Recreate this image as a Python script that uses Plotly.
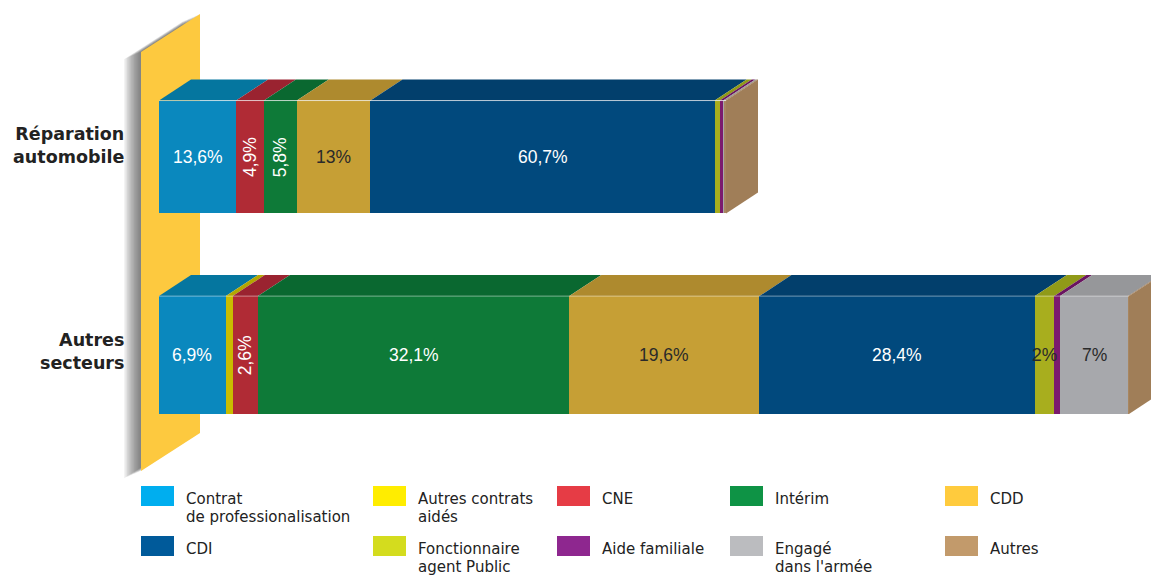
import plotly.graph_objects as go
import numpy as np

# ---------------- data ----------------
categories = ["Réparation<br>automobile", "Autres<br>secteurs"]
series = ["Contrat<br>de professionalisation", "Autres contrats<br>aidés", "CNE", "Intérim", "CDD",
          "CDI", "Fonctionnaire<br>agent Public", "Aide familiale", "Engagé<br>dans l'armée", "Autres"]
rep_auto = [13.6, 0.0, 4.9, 5.8, 13.0, 60.7, 0.9, 0.6, 0.3, 0.2]
autres_sect = [6.9, 0.7, 2.6, 32.1, 19.6, 28.4, 2.0, 0.6, 7.0, 0.1]
labels_rep = ["13,6%", "", "4,9%", "5,8%", "13%", "60,7%", "", "", "", ""]
labels_aut = ["6,9%", "", "2,6%", "32,1%", "19,6%", "28,4%", "2%", "", "7%", ""]

# ---------------- styles ----------------
face_colors = ["#0A88BE", "#C9BC00", "#B02B35", "#0E7A38", "#C69F35",
               "#01497D", "#A8AE1E", "#7B1A6E", "#A7A8AC", "#A88660"]
top_colors = ["#05769F", "#B3A700", "#9A2330", "#0A6830", "#AE8A2E",
              "#023F6C", "#909A18", "#6A1460", "#96979A", "#937250"]
legend_colors = ["#00AEEF", "#FFED00", "#E63C45", "#0E9345", "#FFCB3D",
                 "#005A9A", "#D4DC1E", "#8E278F", "#BBBCBF", "#C29A6B"]
side_color = "#A07E58"
label_dark = [False, False, False, False, True, False, True, False, True, False]
rot_rep = [False, False, True, True, False, False, False, False, False, False]
rot_aut = [False, False, True, False, False, False, False, False, False, False]

W, H = 1151, 575
ML = 159
PW = W - ML
# pixel length of the 100 % bar for each bar (the two bars are drawn at different scales)
full_px = [567, 970]
depth_px = (32, 21)
y_pos = [1.0, 0.0]
thick = [0.57, 0.595]
unit_px = 198.0  # vertical pixels per y unit
y_range = [1 - (H - 157) / unit_px, 1 + 157 / unit_px]
dy = depth_px[1] / unit_px

bar_defs = [
    (rep_auto, labels_rep, rot_rep, "x2"),
    (autres_sect, labels_aut, rot_aut, "x"),
]
xranges = [100 * PW / fp for fp in full_px]

fig = go.Figure()
annotations = []
label_font = "Liberation Sans Narrow, Liberation Sans, Arial, sans-serif"

for b, (vals, labs, rots, xa) in enumerate(bar_defs):
    v = np.array(vals, dtype=float)
    cum = np.cumsum(v)
    base = cum - v
    total = cum[-1]
    dx = depth_px[0] * xranges[b] / PW
    yc = y_pos[b]
    yt = yc + thick[b] / 2
    yb = yc - thick[b] / 2
    for i in range(len(v)):
        if v[i] <= 0:
            continue
        fig.add_trace(go.Bar(
            x=[v[i]], y=[yc], base=[base[i]], orientation="h", width=thick[b],
            marker=dict(color=face_colors[i], line=dict(width=0)),
            xaxis=xa, yaxis="y", showlegend=False, hoverinfo="skip"))
        x0, x1 = base[i], cum[i]
        fig.add_trace(go.Scatter(
            x=[x0, x1, x1 + dx, x0 + dx, x0], y=[yt, yt, yt + dy, yt + dy, yt],
            mode="lines", fill="toself", fillcolor=top_colors[i], line=dict(width=0),
            xaxis=xa, yaxis="y", showlegend=False, hoverinfo="skip"))
        if labs[i]:
            annotations.append(dict(
                x=x0 + v[i] / 2, y=yc, xref=xa, yref="y", text=labs[i], showarrow=False,
                textangle=-90 if rots[i] else 0,
                font=dict(family=label_font, size=17.5,
                          color="#2a2a2a" if label_dark[i] else "#ffffff")))
    # highlight line between front and top
    fig.add_trace(go.Scatter(
        x=[0, total], y=[yt, yt], mode="lines",
        line=dict(color="rgba(255,255,255,0.45)", width=1),
        xaxis=xa, yaxis="y", showlegend=False, hoverinfo="skip"))
    # side face
    fig.add_trace(go.Scatter(
        x=[total, total, total + dx, total + dx, total],
        y=[yb, yt, yt + dy, yb + dy, yb],
        mode="lines", fill="toself", fillcolor=side_color, line=dict(width=0),
        xaxis=xa, yaxis="y", showlegend=False, hoverinfo="skip"))

# category labels
cat_shift = [12, 4]
for b, cat in enumerate(categories):
    annotations.append(dict(
        x=0, y=y_pos[b], xref="paper", yref="y", xanchor="right", xshift=-33,
        yshift=cat_shift[b], text=cat, align="right", showarrow=False,
        font=dict(family="DejaVu Sans", size=17.5, color="#222222", weight="bold")))


def px2paper(px, py):
    return (px - ML) / PW, 1 - py / H


def path(points):
    s = ""
    for k, (px, py) in enumerate(points):
        x, y = px2paper(px, py)
        s += ("M" if k == 0 else "L") + f"{x:.5f},{y:.5f} "
    return s + "Z"


shapes = []
pole = [(141, 52), (200, 14), (200, 433), (141, 471)]
# soft shadow around the pole
for k in range(12, 0, -1):
    shp = [(x - k * 1.4, y + k * 0.6) for x, y in pole]
    shapes.append(dict(type="path", path=path(shp), xref="paper", yref="paper",
                       fillcolor="rgba(60,60,60,0.08)", line=dict(width=0), layer="below"))
shapes.append(dict(type="path", path=path(pole), xref="paper", yref="paper",
                   fillcolor="#FDC93F", line=dict(width=0), layer="below"))

# legend (manual 5 x 2 grid)
col_px = [141, 373, 557, 730, 945]
row_px = [486, 536]
sw_w, sw_h = 33, 20
line_px = 18
for i, name in enumerate(series):
    c, r = i % 5, i // 5
    x0, y0 = px2paper(col_px[c], row_px[r])
    x1, y1 = px2paper(col_px[c] + sw_w, row_px[r] + sw_h)
    shapes.append(dict(type="rect", x0=x0, y0=y1, x1=x1, y1=y0, xref="paper", yref="paper",
                       fillcolor=legend_colors[i], line=dict(width=0)))
    for j, line in enumerate(name.split("<br>")):
        tx, ty = px2paper(col_px[c] + 43, row_px[r] + 13 + j * line_px)
        annotations.append(dict(
            x=tx, y=ty, xref="paper", yref="paper", xanchor="left", yanchor="middle",
            text=line, align="left", showarrow=False,
            font=dict(family="DejaVu Sans", size=15, color="#222222")))

ax_common = dict(visible=False, showgrid=False, zeroline=False, fixedrange=True)
fig.update_layout(
    width=W, height=H,
    margin=dict(l=ML, r=0, t=0, b=0),
    paper_bgcolor="white", plot_bgcolor="rgba(0,0,0,0)",
    barmode="overlay", bargap=0,
    xaxis=dict(range=[0, xranges[1]], **ax_common),
    xaxis2=dict(range=[0, xranges[0]], overlaying="x", **ax_common),
    yaxis=dict(range=y_range, **ax_common),
    shapes=shapes, annotations=annotations, showlegend=False,
)

fig.write_html("out.html", config={"displayModeBar": False},
               post_script="document.body.style.margin='0';document.body.style.overflow='hidden';")
